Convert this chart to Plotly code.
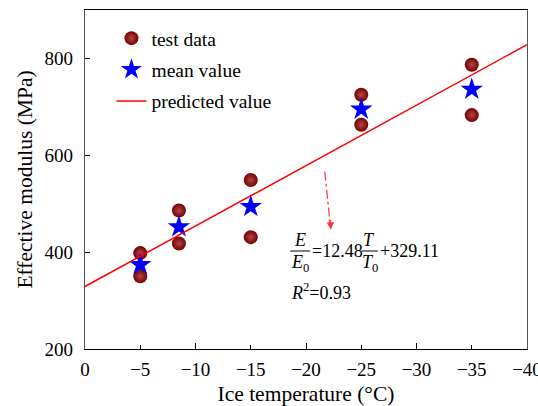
import plotly.graph_objects as go

# ---- data ----
test_temp = [-5, -5, -8.5, -8.5, -15, -15, -25, -25, -35, -35]
test_modulus = [398, 350, 486, 418, 549, 431, 725, 663, 787, 683]
mean_temp = [-5, -8.5, -15, -25, -35]
mean_modulus = [374, 452, 494, 695, 736]
fit_slope = 12.48
fit_intercept = 329.11
fit_temp = [0, -40]
fit_modulus = [fit_intercept - fit_slope * t for t in fit_temp]
x_ticks = [0, -5, -10, -15, -20, -25, -30, -35, -40]
x_ticktext = ["0", "\u22125", "\u221210", "\u221215", "\u221220", "\u221225", "\u221230", "\u221235", "\u221240"]
y_ticks = [200, 400, 600, 800]

FONT = "Liberation Serif, Times New Roman, serif"
W, H = 538, 406
L, R, T, B = 84.5, 527, 10, 349

def px(xp):
    return (xp - L) / (R - L)

def py(yp):
    return (B - yp) / (B - T)

fig = go.Figure()
fig.add_trace(go.Scatter(
    x=test_temp, y=test_modulus, mode="markers", name="test data",
    legendgroup="a",
    marker=dict(symbol="circle", size=14, color="#750000",
                gradient=dict(type="radial", color="#b04848"),
                line=dict(width=0)),
))
fig.add_trace(go.Scatter(
    x=mean_temp, y=mean_modulus, mode="markers", name="mean value",
    legendgroup="b",
    marker=dict(symbol="star", size=17, color="#0000ff", line=dict(width=0)),
))
fig.add_trace(go.Scatter(
    x=fit_temp, y=fit_modulus, mode="lines", name="predicted value",
    legendgroup="c",
    line=dict(color="#ff0000", width=1.5),
))
# overlay axis for the longer major ticks
fig.add_trace(go.Scatter(x=[0], y=[200], xaxis="x2", mode="markers",
                         marker=dict(opacity=0), showlegend=False, hoverinfo="skip"))

fig.update_layout(
    width=W, height=H,
    margin=dict(l=L, r=W - R, t=T, b=H - B, autoexpand=False),
    paper_bgcolor="white", plot_bgcolor="white",
    font=dict(family=FONT, size=19, color="black"),
    showlegend=True,
    legend=dict(x=px(111), y=py(19), xanchor="left", yanchor="top",
                bgcolor="rgba(0,0,0,0)", font=dict(size=19.5, family=FONT, color="black"),
                traceorder="grouped", tracegroupgap=3, itemwidth=30),
    xaxis=dict(range=[0, -40], tickvals=x_ticks, ticktext=x_ticktext,
               ticks="inside", ticklen=4, tickwidth=1, tickcolor="black",
               showline=True, linecolor="black", linewidth=1.2, mirror=True,
               showgrid=False, zeroline=False, ticklabelstandoff=3,
               ticklabeloverflow="allow", automargin=False,
               title=dict(text="Ice temperature (\u00b0C)",
                          font=dict(size=21.5, family=FONT, color="black"), standoff=12),
               tickfont=dict(size=19, family=FONT, color="black")),
    xaxis2=dict(range=[0, -40], overlaying="x", side="bottom", dtick=10, tick0=0,
                ticks="inside", ticklen=6, tickwidth=1.2, tickcolor="black",
                showticklabels=False, showline=False, showgrid=False, zeroline=False,
                automargin=False),
    yaxis=dict(range=[200, 900], tickvals=y_ticks, ticks="inside", ticklen=5,
               tickwidth=1.2, tickcolor="black",
               showline=True, linecolor="#555555", linewidth=1.2, mirror=True,
               showgrid=False, zeroline=False, ticklabelstandoff=7, automargin=False,
               title=dict(text="Effective modulus (MPa)",
                          font=dict(size=21.5, family=FONT, color="black"), standoff=6),
               tickfont=dict(size=19, family=FONT, color="black")),
)

# dash-dot arrow
fig.add_shape(type="line", xref="x", yref="y", x0=-21.7, y0=566, x1=-22.2, y1=455,
              line=dict(color="#ff3030", width=1.2, dash="dashdot"))
fig.add_annotation(xref="x", yref="y", x=-22.25, y=447, ax=-22.18, ay=470,
                   axref="x", ayref="y", text="", showarrow=True,
                   arrowhead=2, arrowsize=1.2, arrowwidth=1.2, arrowcolor="#ff3030")

eq_font = dict(family=FONT, size=18, color="black")

def txt(x, y, s, xanchor="center"):
    fig.add_annotation(xref="paper", yref="paper", x=px(x), y=py(y), text=s,
                       showarrow=False, xanchor=xanchor, yanchor="middle", font=eq_font)

def frac_line(x0, x1, y):
    fig.add_shape(type="line", xref="paper", yref="paper", x0=px(x0), x1=px(x1),
                  y0=py(y), y1=py(y), line=dict(color="black", width=1))

txt(300, 240, "<i>E</i>")
frac_line(290, 310, 251)
txt(300, 263, "<i>E</i><sub>0</sub>")
txt(309.5, 251, "=12.48", xanchor="left")
txt(369, 240, "<i>T</i>")
frac_line(361, 377.5, 251)
txt(369.5, 263, "<i>T</i><sub>0</sub>")
txt(378, 251, "+329.11", xanchor="left")
txt(289, 291, "<i>R</i><sup>2</sup>=0.93", xanchor="left")

fig.write_html("out.html")
